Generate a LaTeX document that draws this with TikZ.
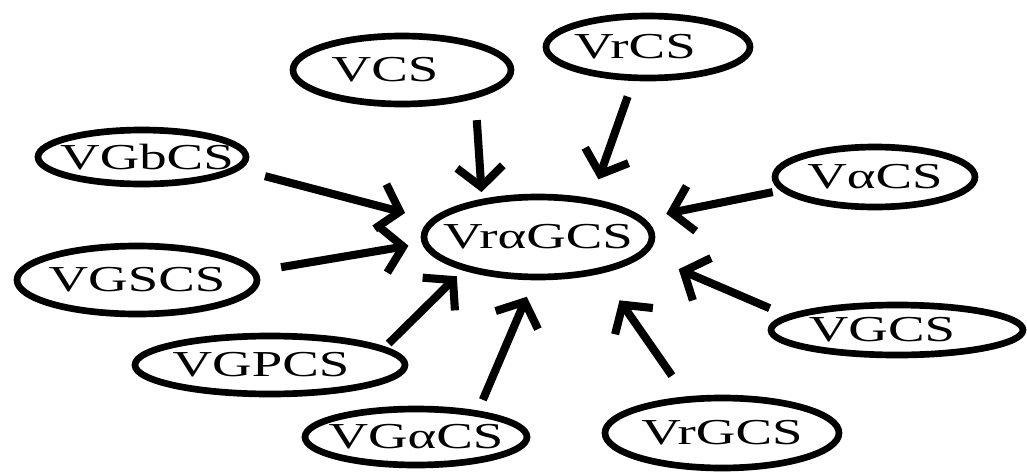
\documentclass[tikz,border=0pt]{standalone}
\usepackage{fontspec}
\setmainfont{Liberation Serif}[FakeStretch=1.5]
\usepackage{tikz}
\usetikzlibrary{arrows.meta, shapes.geometric}

\tikzset{
  oval/.style={draw, ellipse, line width=1.9pt, inner sep=0pt, outer sep=0pt},
  arr/.style={line width=2.3pt, -{Straight Barb[length=0.2cm, width=0.46cm]}}
}

\begin{document}
\begin{tikzpicture}
\useasboundingbox (0,0) rectangle (10.27,-4.73);

\fontsize{10.4}{12}\selectfont
\node [oval, minimum width=2.18cm, minimum height=0.68cm, label={[xshift=-0.17cm]center:VCS}] (vcs) at (4.02,-0.70) {};
\node [oval, minimum width=2.04cm, minimum height=0.62cm, label={[xshift=-0.13cm]center:VrCS}] (vrcs) at (6.48,-0.47) {};
\node [oval, minimum width=2.08cm, minimum height=0.54cm, label={[xshift=0.05cm]center:VGbCS}] (vgbcs) at (1.42,-1.57) {};
\node [oval, minimum width=2.00cm, minimum height=0.60cm, label=center:VαCS] (vacs) at (8.75,-1.77) {};
\node [oval, minimum width=2.28cm, minimum height=0.80cm, label=center:VrαGCS] (hub) at (5.38,-2.37) {};
\node [oval, minimum width=2.40cm, minimum height=0.68cm, label=center:VGSCS] (vgscs) at (1.37,-2.80) {};
\node [oval, minimum width=2.52cm, minimum height=0.50cm, label={[xshift=-0.15cm]center:VGCS}] (vgcs) at (8.97,-3.30) {};
\node [oval, minimum width=2.70cm, minimum height=0.58cm, label={[xshift=-0.09cm]center:VGPCS}] (vgpcs) at (2.70,-3.65) {};
\node [oval, minimum width=2.22cm, minimum height=0.56cm, label=center:VGαCS] (vgacs) at (4.16,-4.37) {};
\node [oval, minimum width=2.34cm, minimum height=0.70cm, label=center:VrGCS] (vrgcs) at (7.22,-4.33) {};

\draw [arr, shorten <=0.25cm, shorten >=0.10cm] (vcs.-19) -- (hub.148);
\draw [arr, shorten <=0.20cm, shorten >=0.235cm] (vrcs.-114) -- (hub.34);
\draw [arr, shorten <=0.30cm, shorten >=0.30cm] (vgbcs.-7) -- (hub.171);
\draw [arr, shorten <=0.12cm, shorten >=0.27cm] (vacs.-172.5) -- (hub.10);
\draw [arr, shorten <=0.28cm, shorten >=0.17cm] (vgscs.4) -- (hub.-177.6);
\draw [arr, shorten <=0.22cm, shorten >=0.40cm] (vgcs.173) -- (hub.-9);
\draw [arr, shorten <=0.08cm, shorten >=0.12cm] (vgpcs.8) -- (hub.-157.6);
\draw [arr, shorten <=0.15cm, shorten >=0.215cm] (vgacs.21) -- (hub.-94);
\draw [arr, shorten <=0.29cm, shorten >=0.36cm] (vrgcs.135) -- (hub.-29);
\end{tikzpicture}
\end{document}
